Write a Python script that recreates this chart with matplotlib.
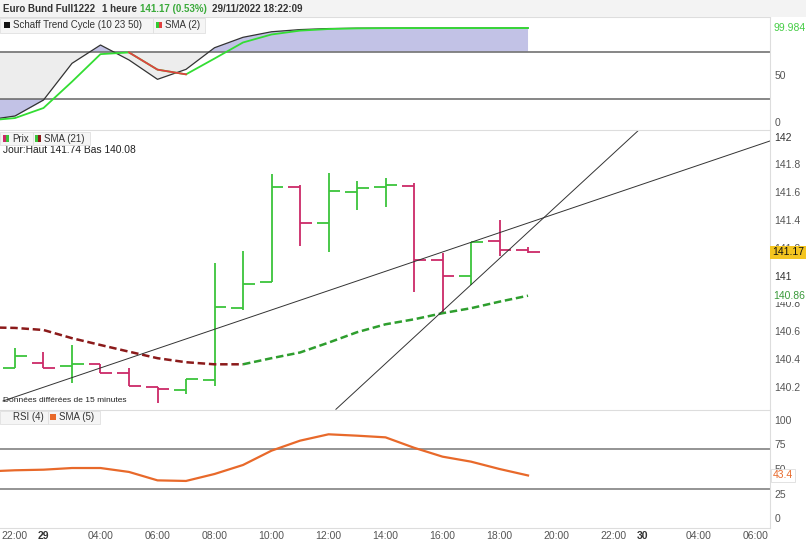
# coding: utf-8
# Euro Bund hourly bars with Schaff Trend Cycle and RSI panels

import numpy as np
import matplotlib.pyplot as plt
from matplotlib.patches import Rectangle

plt.rcParams['font.family'] = ['Liberation Sans', 'DejaVu Sans']

W, H = 806, 541

# hourly slots on the compressed time axis (slot 0 = 22:00 on the 28th)
bar_slots = np.arange(0, 19)
opens = [140.337, 140.373, 140.35, 140.361, 140.297, 140.20, 140.176, 140.246, 140.769, 140.952,
         141.636, 141.381, 141.60, 141.64, 141.643, 141.112, 140.997, 141.251, 141.184]
highs = [140.477, 140.45, 140.50, 140.366, 140.333, 140.20, 140.256, 141.089, 141.177, 141.729,
         141.652, 141.737, 141.683, 141.70, 141.665, 141.165, 141.24, 141.40, 141.204]
lows = [140.337, 140.337, 140.23, 140.297, 140.205, 140.08, 140.145, 140.205, 140.752, 140.952,
        141.213, 141.172, 141.472, 141.49, 140.884, 140.723, 140.932, 141.141, 141.16]
closes = [140.42, 140.337, 140.36, 140.297, 140.205, 140.181, 140.256, 140.776, 140.937, 141.636,
          141.381, 141.609, 141.633, 141.65, 141.112, 140.997, 141.24, 141.184, 141.168]

# indicator series start one slot earlier (off the left edge)
ind_slots = np.arange(-1, 19)
sma21 = [140.627, 140.623, 140.608, 140.549, 140.50, 140.452, 140.405, 140.376, 140.361, 140.361,
         140.405, 140.446, 140.517, 140.592, 140.649, 140.685, 140.729, 140.765, 140.812, 140.855]
stc = [2.0, 6.4, 23.4, 62.4, 81.9, 66.0, 45.4, 56.0, 79.0, 90.1,
       96.0, 98.3, 99.4, 99.8, 99.9, 99.95, 99.97, 99.98, 99.98, 99.984]
stc_sma = [1.5, 4.2, 14.9, 42.9, 72.2, 74.0, 55.7, 50.7, 67.5, 84.6,
           93.1, 97.2, 98.9, 99.6, 99.85, 99.93, 99.96, 99.975, 99.98, 99.984]
rsi_sma = [47.5, 48.7, 49.3, 51.0, 51.0, 47.0, 38.4, 37.8, 44.9, 54.1,
           68.7, 78.9, 85.4, 84.0, 82.3, 71.7, 62.6, 57.5, 50.0, 43.4]

# trend lines drawn on the chart (slot, price)
trend_a_x = [-0.42, 26.49]
trend_a_y = [140.097, 141.969]
trend_b_x = [11.26, 21.89]
trend_b_y = [140.037, 142.048]

tick_slots = [0, 1, 3, 5, 7, 9, 11, 13, 15, 17, 19, 21, 22, 24, 26]
tick_labels = ['22:00', '29', '04:00', '06:00', '08:00', '10:00', '12:00', '14:00',
               '16:00', '18:00', '20:00', '22:00', '30', '04:00', '06:00']

GREEN = '#3cc43c'
PINK = '#cc2a68'
GREY_TXT = '#555555'
FS = 7.5

fig = plt.figure(figsize=(W / 100, H / 100), dpi=100)


def rect(top, bottom, left=0, right=770):
    return [left / W, 1 - bottom / H, (right - left) / W, (bottom - top) / H]


def fx(x):
    return x / W


def fy(y):
    return 1 - y / H


ax_stc = fig.add_axes(rect(17, 130))
ax_px = fig.add_axes(rect(130, 410))
ax_rsi = fig.add_axes(rect(410, 528))

for ax in (ax_stc, ax_px, ax_rsi):
    ax.set_xlim(-0.526, 26.49)
    ax.yaxis.tick_right()
    ax.tick_params(axis='y', length=0, labelsize=FS, labelcolor=GREY_TXT, pad=3)
    ax.tick_params(axis='x', length=0)
    ax.set_xticks([])
    for s in ('left', 'bottom'):
        ax.spines[s].set_visible(False)
    for s in ('top', 'right'):
        ax.spines[s].set_color('#dddddd')
        ax.spines[s].set_linewidth(0.8)
ax_rsi.spines['bottom'].set_visible(True)
ax_rsi.spines['bottom'].set_color('#dddddd')

lab_x = 1.0 + 3 / 770

# ---- Schaff Trend Cycle panel ----
ax_stc.set_ylim(-8.5, 111.7)
x = ind_slots
y = np.array(stc)
ax_stc.fill_between(x, y, 75, where=y < 75, interpolate=True, color='#ededed', lw=0)
ax_stc.fill_between(x, y, 25, where=y <= 25, interpolate=True, color='#c2c2e6', lw=0)
ax_stc.fill_between(x, y, 75, where=y >= 75, interpolate=True, color='#c2c2e6', lw=0)
ax_stc.axhline(75, color='#666666', lw=1.1)
ax_stc.axhline(25, color='#666666', lw=1.1)
ax_stc.plot(x, y, color='#333333', lw=0.9)
ax_stc.plot(x, stc_sma, color='#33dd33', lw=1.3)
ax_stc.plot(x[5:8], stc_sma[5:8], color='#e04040', lw=1.3)
ax_stc.set_yticks([0, 50])
ax_stc.set_yticklabels(['0', '50'])
ax_stc.text(lab_x, 99.984, '99.984', transform=ax_stc.get_yaxis_transform(), color='#44cc44',
            fontsize=FS, va='center', ha='left', clip_on=False)

# ---- price panel ----
ax_px.set_ylim(140.032, 142.048)
hw = 0.42
for i in range(len(bar_slots)):
    c = GREEN if closes[i] >= opens[i] else PINK
    s = bar_slots[i]
    ax_px.vlines(s, lows[i], highs[i], color=c, lw=1.3)
    ax_px.hlines(opens[i], s - hw, s, color=c, lw=1.3)
    ax_px.hlines(closes[i], s, s + hw, color=c, lw=1.3)

ax_px.plot(ind_slots[:10], sma21[:10], color='#8b1a1a', lw=1.8, ls=(0, (3, 1.5)))
ax_px.plot(ind_slots[9:], sma21[9:], color='#2e9e2e', lw=1.8, ls=(0, (3, 1.5)))
ax_px.plot(trend_a_x, trend_a_y, color='#333333', lw=0.7)
ax_px.plot(trend_b_x, trend_b_y, color='#333333', lw=0.7)

pticks = [140.2, 140.4, 140.6, 140.8, 141.0, 141.2, 141.4, 141.6, 141.8, 142.0]
ax_px.set_yticks(pticks)
ax_px.set_yticklabels(['%g' % round(v, 1) for v in pticks])
for lab in ax_px.get_yticklabels():
    if lab.get_text() in ('142', '141'):
        lab.set_color('#333333')

ytr = ax_px.get_yaxis_transform()
ax_px.text(1.0 + 2 / 770, closes[-1], '141.17', transform=ytr, fontsize=FS, color='#111111',
           va='center', ha='left', clip_on=False, zorder=10,
           bbox=dict(boxstyle='square,pad=0.15', fc='#f4c520', ec='none'))
ax_px.text(lab_x, sma21[-1], '140.86', transform=ytr, fontsize=FS, color='#3a9a3a',
           va='center', ha='left', clip_on=False, zorder=10,
           bbox=dict(boxstyle='square,pad=0.1', fc='white', ec='none'))

ax_px.text(3 / 770, 141.905, 'Jour:Haut 141.74 Bas 140.08', transform=ax_px.get_yaxis_transform(),
           fontsize=7.4, color='#222222', va='center', ha='left')
fig.text(fx(3), fy(401), 'Données différées de 15 minutes', fontsize=6.0, color='#222222',
         va='center', ha='left')

# ---- RSI panel ----
ax_rsi.set_ylim(-10.2, 110.2)
ax_rsi.axhline(70, color='#777777', lw=1.1)
ax_rsi.axhline(30, color='#777777', lw=1.1)
ax_rsi.plot(ind_slots, rsi_sma, color='#e8692a', lw=1.6)
ax_rsi.set_yticks([0, 25, 50, 75, 100])
ax_rsi.set_yticklabels(['0', '25', '50', '75', '100'])
ax_rsi.text(lab_x, rsi_sma[-1], '43.4', transform=ax_rsi.get_yaxis_transform(),
            fontsize=FS, color='#e8692a', va='center', ha='left', clip_on=False, zorder=10,
            bbox=dict(boxstyle='square,pad=0.15', fc='white', ec='#dddddd', lw=0.6))

ax_rsi.set_xticks(tick_slots)
ax_rsi.set_xticklabels(tick_labels)
ax_rsi.tick_params(axis='x', labelsize=FS, labelcolor=GREY_TXT, pad=2)
for lab in ax_rsi.get_xticklabels():
    if lab.get_text() in ('29', '30'):
        lab.set_fontweight('bold')
        lab.set_color('#333333')

# ---- header ----
fig.patches.append(Rectangle((0, fy(17)), 1, 17 / H, transform=fig.transFigure,
                             fc='#f3f3f3', ec='none', zorder=0))
fig.text(fx(3), fy(9), 'Euro Bund Full1222', fontsize=7.0, fontweight='bold', color='#333333', va='center')
fig.text(fx(102), fy(9), '1 heure', fontsize=7.0, fontweight='bold', color='#333333', va='center')
fig.text(fx(140), fy(9), '141.17 (0.53%)', fontsize=7.0, fontweight='bold', color='#3aaa3a', va='center')
fig.text(fx(212), fy(9), '29/11/2022 18:22:09', fontsize=7.0, fontweight='bold', color='#333333', va='center')


# legend boxes
def legend_box(x0, x1, top, bottom):
    fig.patches.append(Rectangle((fx(x0), fy(bottom)), (x1 - x0) / W, (bottom - top) / H,
                                 transform=fig.transFigure, fc='#f5f5f5', ec='#e0e0e0', lw=0.6, zorder=5))


def square(x0, yc, c1, c2=None):
    size = 6
    if c2 is None:
        fig.patches.append(Rectangle((fx(x0), fy(yc + size / 2)), size / W, size / H,
                                     transform=fig.transFigure, fc=c1, ec='none', zorder=6))
    else:
        fig.patches.append(Rectangle((fx(x0), fy(yc + size / 2)), size / 2 / W, size / H,
                                     transform=fig.transFigure, fc=c1, ec='none', zorder=6))
        fig.patches.append(Rectangle((fx(x0 + size / 2), fy(yc + size / 2)), size / 2 / W, size / H,
                                     transform=fig.transFigure, fc=c2, ec='none', zorder=6))


legend_box(0, 153, 18, 33)
legend_box(153, 205, 18, 33)
square(4, 25, '#111111')
fig.text(fx(13), fy(25.5), 'Schaff Trend Cycle (10 23 50)', fontsize=7, color='#333333', va='center', zorder=7)
square(156, 25, '#33cc33', '#e04040')
fig.text(fx(165), fy(25.5), 'SMA (2)', fontsize=7, color='#333333', va='center', zorder=7)

legend_box(0, 33, 132, 145)
legend_box(33, 90, 132, 145)
square(3, 138.5, '#cc2a68', '#3cc43c')
fig.text(fx(12), fy(139), 'Prix', fontsize=7, color='#333333', va='center', zorder=7)
square(35, 138.5, '#3cc43c', '#8b1a1a')
fig.text(fx(44), fy(139), 'SMA (21)', fontsize=7, color='#333333', va='center', zorder=7)

legend_box(0, 48, 411, 424)
legend_box(48, 100, 411, 424)
fig.text(fx(13), fy(417.5), 'RSI (4)', fontsize=7, color='#333333', va='center', zorder=7)
square(50, 417, '#e8692a')
fig.text(fx(59), fy(417.5), 'SMA (5)', fontsize=7, color='#333333', va='center', zorder=7)

fig.savefig('out.png', dpi=100)
